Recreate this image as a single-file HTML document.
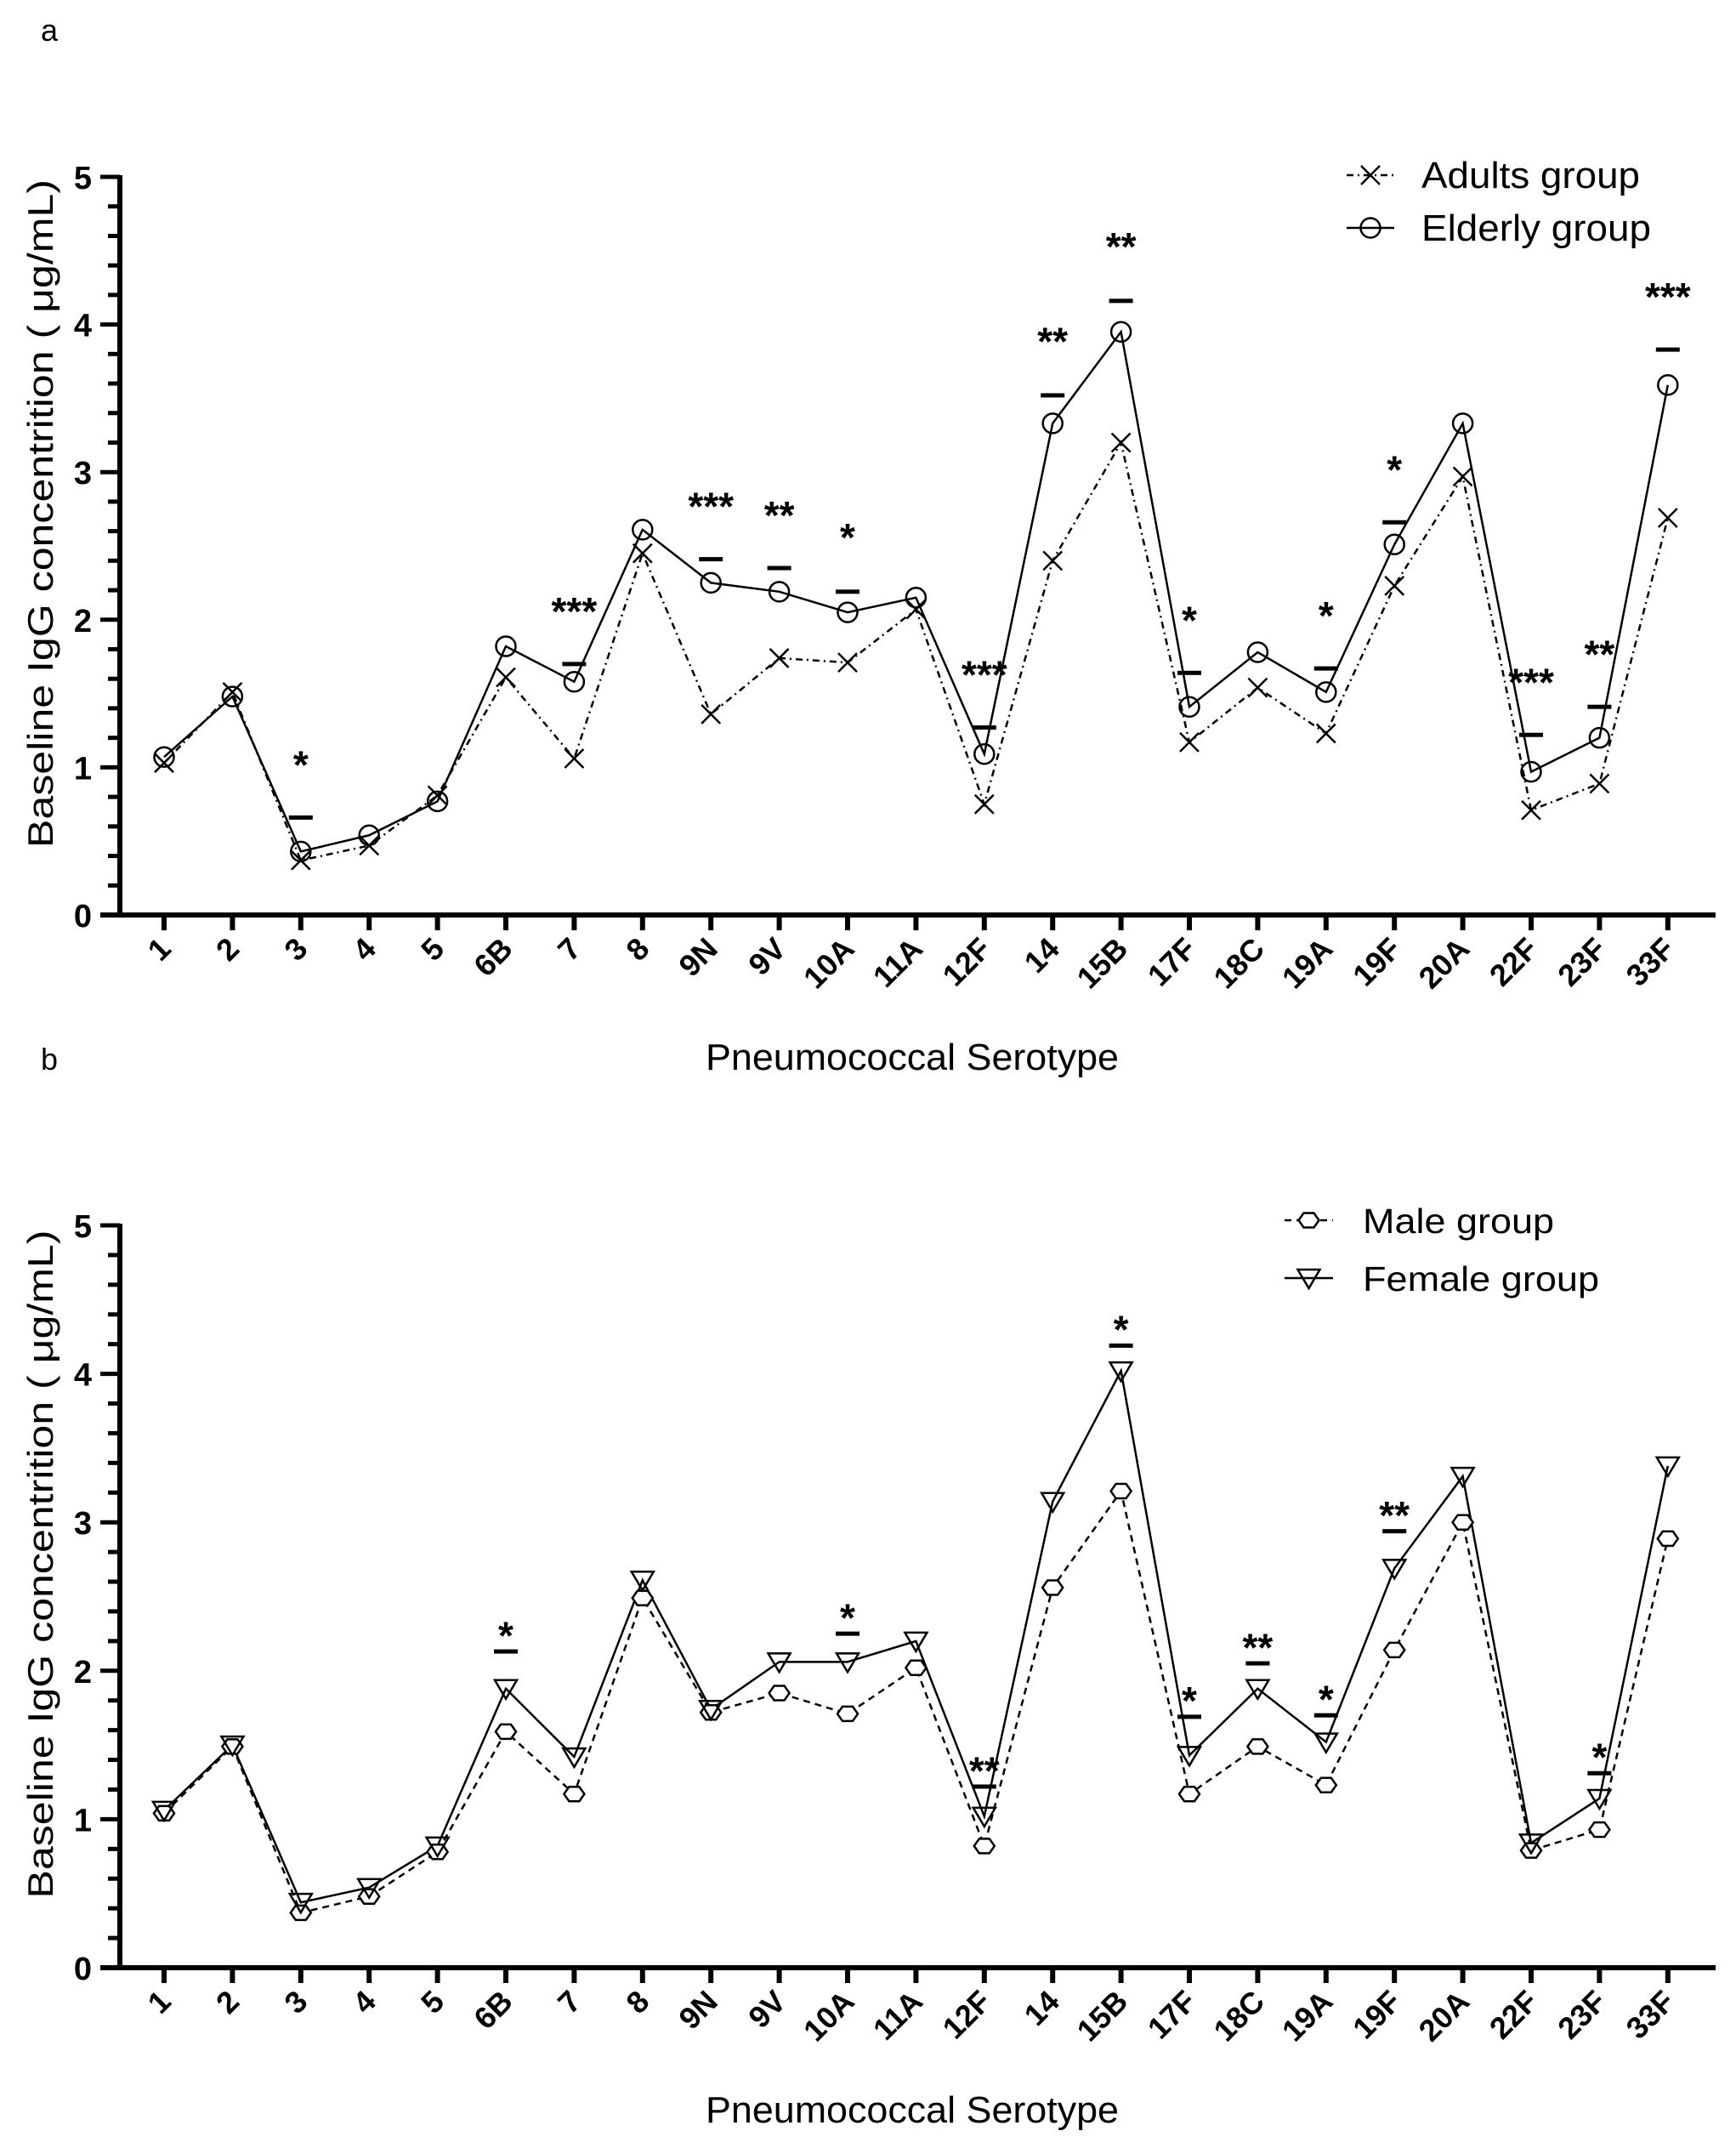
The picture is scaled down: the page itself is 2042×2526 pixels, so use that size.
<!DOCTYPE html>
<html><head><meta charset="utf-8"><style>
html,body{margin:0;padding:0;background:#fff}
svg{display:block}
text{font-family:"Liberation Sans",Arial,sans-serif;fill:#000}
</style></head><body>
<svg id="s" width="2042" height="2526" viewBox="0 0 2042 2526" xmlns="http://www.w3.org/2000/svg"></svg>
<script>
const S=document.getElementById('s');let h='';
const cats=['1','2','3','4','5','6B','7','8','9N','9V','10A','11A','12F','14','15B','17F','18C','19A','19F','20A','22F','23F','33F'];
const X=i=>193+80.4*i;
function panel(y0,y5,label,ly,A,B,sA,sB,bars,leg,legY,L){
 const Y=v=>y0-(y0-y5)*v/5;
 h+=`<text x="48" y="${ly}" font-size="36">${label}</text>`;
 h+=`<line x1="141" y1="${y5-2}" x2="141" y2="${y0+2}" stroke="#000" stroke-width="6"/>`;
 h+=`<line x1="118" y1="${y0}" x2="2018" y2="${y0}" stroke="#000" stroke-width="6"/>`;
 for(let k=0;k<=25;k++){const v=k/5,y=Y(v);const maj=k%5==0;
  h+=`<line x1="${maj?118:127}" y1="${y}" x2="141" y2="${y}" stroke="#000" stroke-width="5"/>`;
  if(maj)h+=`<text x="108" y="${y+14}" font-size="38" font-weight="bold" text-anchor="end">${v}</text>`;}
 cats.forEach((c,i)=>{const x=X(i);
  h+=`<line x1="${x}" y1="${y0}" x2="${x}" y2="${y0+18}" stroke="#000" stroke-width="6"/>`;
  h+=`<text transform="translate(${x+10},${y0+42}) rotate(-45)" font-size="36" font-weight="bold" text-anchor="end">${c}</text>`;});
 h+=`<text x="1073" y="${y0+182}" font-size="44" text-anchor="middle" textLength="486" lengthAdjust="spacingAndGlyphs">Pneumococcal Serotype</text>`;
 h+=`<text transform="translate(62,${(y0+y5)/2-38}) rotate(-90)" font-size="42" text-anchor="middle" textLength="786" lengthAdjust="spacingAndGlyphs">Baseline IgG concentrition ( μg/mL)</text>`;
 const line=(d,st)=>{h+=`<polyline fill="none" stroke="#000" stroke-width="2.5" ${st?`stroke-dasharray="${st}"`:''} points="${d.map((v,i)=>X(i)+','+Y(v)).join(' ')}"/>`;};
 line(A,sA.dash);line(B,sB.dash);
 A.forEach((v,i)=>h+=sA.m(X(i),Y(v)));B.forEach((v,i)=>h+=sB.m(X(i),Y(v)));
 bars.forEach(([c,b,st,sv])=>{const x=X(cats.indexOf(c));
  h+=`<rect x="${x-14}" y="${Y(b)-2.5}" width="28" height="5" fill="#000"/>`;
  h+=`<text x="${x}" y="${Y(sv)+27}" font-size="46" font-weight="bold" text-anchor="middle">${st}</text>`;});
 leg.forEach((l,k)=>{const y=legY+k*L.gap;const s=k?sB:sA;
  h+=`<line x1="${L.lx1}" y1="${y}" x2="${L.lx2}" y2="${y}" stroke="#000" stroke-width="2.5" ${s.dash?`stroke-dasharray="${s.dash}"`:''}/>`+s.m((L.lx1+L.lx2)/2,y);
  h+=`<text x="${L.tx}" y="${y+15}" font-size="${L.fs}" textLength="${L.w[k]}" lengthAdjust="spacingAndGlyphs">${l}</text>`;});
}
const cross=(x,y)=>`<path d="M${x-11},${y-11}L${x+11},${y+11}M${x+11},${y-11}L${x-11},${y+11}" stroke="#000" stroke-width="2.5"/>`;
const circ=(x,y)=>`<circle cx="${x}" cy="${y}" r="11.5" fill="none" stroke="#000" stroke-width="2.5"/>`;
const hex=(x,y)=>`<polygon points="${x-12},${y} ${x-6},${y-8.5} ${x+6},${y-8.5} ${x+12},${y} ${x+6},${y+8.5} ${x-6},${y+8.5}" fill="#fff" stroke="#000" stroke-width="2.5"/>`;
const tri=(x,y)=>`<polygon points="${x-13},${y-10} ${x+13},${y-10} ${x},${y+12}" fill="none" stroke="#000" stroke-width="2.5"/>`;
panel(1076,208,'a',48,
 [1.03,1.51,0.37,0.47,0.81,1.61,1.06,2.45,1.36,1.74,1.71,2.07,0.75,2.40,3.20,1.17,1.54,1.23,2.23,2.97,0.71,0.89,2.69],
 [1.07,1.48,0.43,0.54,0.77,1.82,1.58,2.61,2.25,2.19,2.05,2.15,1.09,3.33,3.95,1.41,1.78,1.51,2.51,3.33,0.97,1.20,3.59],
 {dash:'8,5,2,5',m:cross},{dash:null,m:circ},
 [['3',0.66,'*',1.08],['7',1.70,'***',2.12],['9N',2.41,'***',2.83],['9V',2.35,'**',2.77],['10A',2.19,'*',2.62],['12F',1.27,'***',1.69],['14',3.52,'**',3.95],['15B',4.16,'**',4.59],['17F',1.64,'*',2.06],['19A',1.67,'*',2.09],['19F',2.66,'*',3.08],['22F',1.22,'***',1.64],['23F',1.41,'**',1.83],['33F',3.83,'***',4.25]],
 ['Adults group','Elderly group'],206,{gap:62,lx1:1584,lx2:1640,tx:1672,fs:44,w:[257,270]});
panel(2314,1441,'b',1258,
 [1.04,1.49,0.37,0.48,0.78,1.59,1.17,2.49,1.72,1.85,1.71,2.02,0.82,2.56,3.21,1.17,1.49,1.23,2.14,3.00,0.79,0.93,2.89],
 [1.06,1.50,0.44,0.54,0.82,1.88,1.42,2.61,1.74,2.06,2.06,2.20,1.02,3.14,4.02,1.43,1.88,1.52,2.69,3.31,0.84,1.14,3.38],
 {dash:'8,6',m:hex},{dash:null,m:tri},
 [['6B',2.13,'*',2.30],['10A',2.25,'*',2.42],['12F',1.22,'**',1.39],['15B',4.19,'*',4.36],['17F',1.69,'*',1.86],['18C',2.05,'**',2.22],['19A',1.70,'*',1.87],['19F',2.94,'**',3.11],['23F',1.31,'*',1.48]],
 ['Male group','Female group'],1435,{gap:68,lx1:1511,lx2:1568,tx:1603,fs:41,w:[225,278]});
S.innerHTML=h;
</script>
</body></html>
